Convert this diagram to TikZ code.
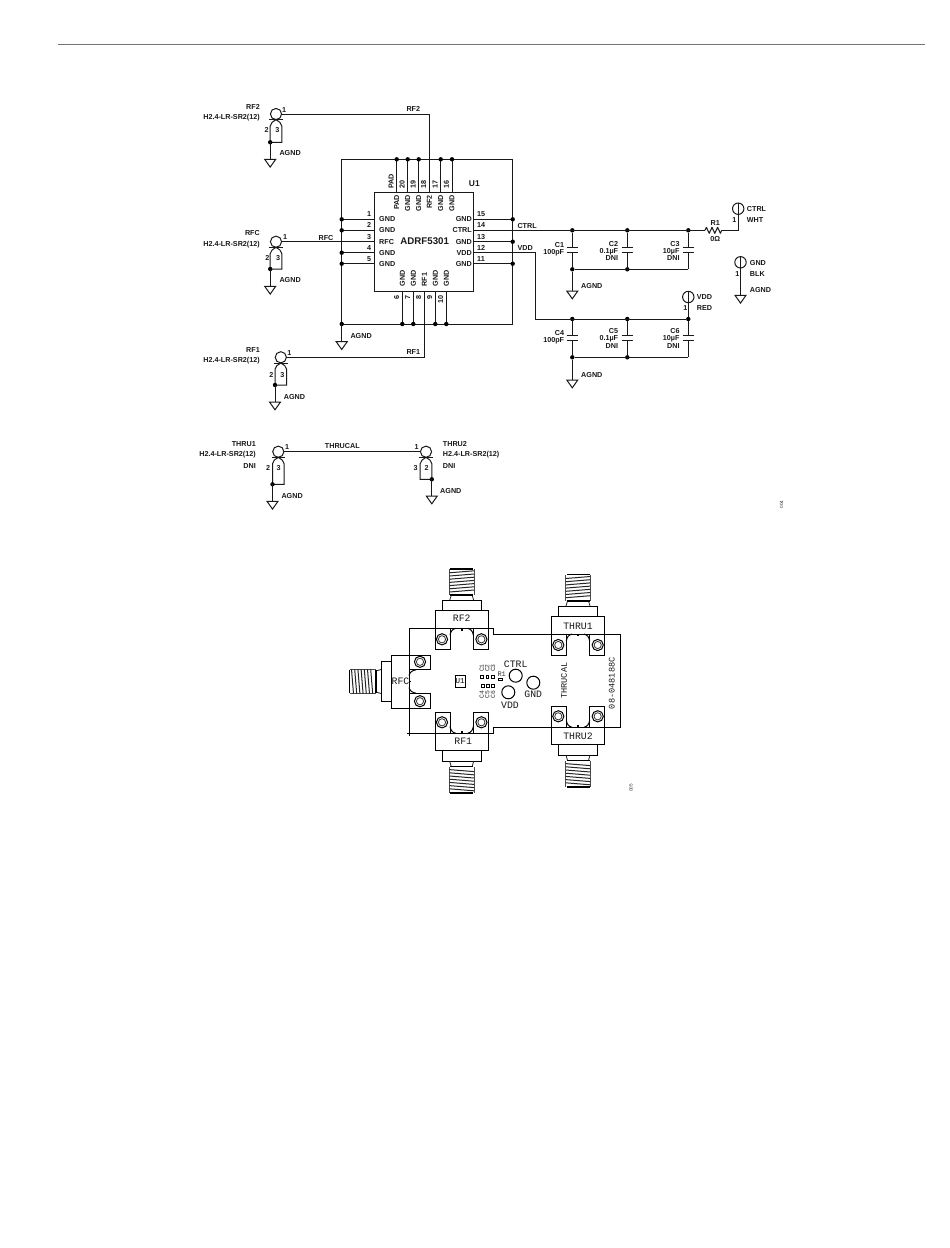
\documentclass[tikz,border=0pt]{standalone}
\usepackage{fontspec}
\usetikzlibrary{calc}
\setmainfont{Liberation Sans}
\newfontfamily\pcbfont{Liberation Mono}
\tikzset{
  wire/.style={line width=1pt,black!90},
  lbl/.style={inner sep=0pt,font=\fontsize{7.2}{8}\selectfont\bfseries,text=black!90},
  lw/.style={lbl,anchor=west},
  le/.style={lbl,anchor=east},
  lc/.style={lbl,anchor=center},
  pcb/.style={line width=1pt,black},
  pcbtext/.style={inner sep=0pt,font=\pcbfont\fontsize{9.8}{10}\selectfont,text=black!90},
  tiny/.style={inner sep=0pt,font=\pcbfont\fontsize{6.4}{7}\selectfont,text=black!80},
  jdot/.style={circle,fill=black,inner sep=0pt,minimum size=4.4pt},
}
\newcommand{\gndsym}[2]{% name, top coordinate
  \coordinate (#1) at (#2);
  \draw[wire] (#1) -- ++(-5.5,0) -- ++(5.5,7.8) -- ++(5.5,-7.8) -- cycle;}
% RF connector symbol: #1 name, #2 centre, #3 U length, #4 side of signal leg
\newcommand{\rfsym}[4]{%
  \coordinate (#1) at (#2);
  \coordinate (#1top) at ($(#1)+(0,5.7)$);
  \coordinate (#1sig) at ($(#1)+(#4*5.8,12)$);
  \coordinate (#1str) at ($(#1)+(-#4*5.8,12)$);
  \draw[wire] (#1) circle[radius=5.6];
  \draw[wire] ($(#1top)+(-6.8,0)$) -- ($(#1top)+(6.8,0)$);
  \draw[wire] (#1top) .. controls ($(#1top)+(#4*3,2)$) and ($(#1sig)+(0,-3)$) .. (#1sig) -- ($(#1sig)+(0,#3)$) -- ($(#1str)+(0,#3)$) coordinate (#1j);
  \draw[wire] (#1top) .. controls ($(#1top)+(-#4*3,2)$) and ($(#1str)+(0,-3)$) .. (#1str) -- (#1j);
  \node[jdot] at (#1j) {};
}
\newcommand{\tpsym}[2]{%
  \coordinate (#1) at (#2);
  \draw[wire] (#1) circle[radius=5.7];
  \draw[wire] ($(#1)+(0,-5.7)$) -- ($(#1)+(0,5.7)$);
}
\newcommand{\capsym}[3]{% name, x, top plate y
  \coordinate (#1a) at (#2,#3);
  \coordinate (#1b) at (#2,#3+5);
  \draw[wire] ($(#1a)+(-5.7,0)$) -- ($(#1a)+(5.7,0)$);
  \draw[wire] ($(#1b)+(-5.7,0)$) -- ($(#1b)+(5.7,0)$);
}
% board connector (local axis pointing up, origin on the board edge)
\newcommand{\sma}[1]{%
  \begin{scope}[#1]
    \draw[pcb] (-26.5,-17.4) rectangle (26.5,0);
    \draw[pcb] (-19.7,-17.4) -- (-19.7,-28) -- (19.7,-28) -- (19.7,-17.4);
    \draw[line width=0.8pt,black!85] (-12,-28) -- (-10.5,-33) (12,-28) -- (10.5,-33);
    \draw[line width=1.5pt,black] (-11.5,-33.2) -- (11.5,-33.2);
    \draw[line width=1.5pt,black] (-11.5,-59.5) -- (11.5,-59.5);
    \draw[line width=0.8pt,black!70] (-12.3,-59.5) -- (-12.3,-33.2) (12.3,-59.5) -- (12.3,-33.2);
    \foreach \t in {-56.5,-53.3,...,-35.5} {\draw[line width=1pt,black!85] (-12.3,\t+1) -- (12.3,\t-1);}
    \draw[pcb] (-26.5,0) rectangle (-11.7,21);
    \draw[pcb] (11.7,0) rectangle (26.5,21);
    \foreach \s in {-1,1} {
      \draw[pcb] (\s*19.7,11) circle[radius=5.6];
      \draw[line width=0.8pt,black!80] (\s*19.7,11) circle[radius=3.6];
      \draw[pcb] (\s*11.7,7) .. controls (\s*11,3) and (\s*9.5,1) .. (\s*6,0);
    }
    \fill (-0.9,0) rectangle (0.9,2.4);
  \end{scope}
}
\begin{document}
\begin{tikzpicture}[x=1pt,y=-1pt]
\useasboundingbox (0,0) rectangle (950,1248);
\fill[white] (0,0) rectangle (950,1248);
% page rule
\coordinate (ruleA) at (58,44);
\coordinate (ruleB) at (925,44);
\draw[line width=1pt,black!55] (ruleA) -- (ruleB);

% ---- IC ----
\coordinate (icNW) at (374.3,192.3);
\coordinate (icSE) at (473.7,291.3);
\draw[wire] (icNW) rectangle (icSE);
\node[lc,font=\fontsize{9.7}{10}\selectfont\bfseries] (icname) at (424.7,240.7) {ADRF5301};
\node[lc,font=\fontsize{8.4}{9}\selectfont\bfseries] (u1) at (474.3,183.3) {U1};

% outer ground box
\coordinate (bNW) at (341.7,159.3);
\coordinate (bNE) at (512.7,159.3);
\coordinate (bSE) at (512.7,324);
\coordinate (bSW) at (341.7,324);
\draw[wire] (bNW) -- (bNE) -- (bSE) -- (bSW) -- cycle;

% top pins
\foreach \n/\x/\num/\name in {tA/396.7/PAD/PAD,tB/407.7/20/GND,tC/418.7/19/GND,tE/440.7/17/GND,tF/452/16/GND} {
  \coordinate (\n) at (\x,159.3);
  \draw[wire] (\n) -- (\x,192.3);
  \node[jdot] at (\n) {};
  \node[lbl,rotate=90,anchor=east] at (\x,195) {\name};
  \node[lbl,rotate=90,anchor=west] at (\x-5.6,189) {\num};
}
\node[lbl,rotate=90,anchor=east] at (429.3,195) {RF2};
\node[lbl,rotate=90,anchor=west] at (423.7,189) {18};

% bottom pins
\foreach \n/\x/\num in {pA/402.3/6,pB/413.3/7,pD/435.3/9,pE/446.3/10} {
  \coordinate (\n) at (\x,324);
  \draw[wire] (\x,291.3) -- (\n);
  \node[jdot] at (\n) {};
  \node[lbl,rotate=90,anchor=west] at (\x,286.7) {GND};
  \node[lbl,rotate=90,anchor=east] at (\x-5.6,295.5) {\num};
}
\node[lbl,rotate=90,anchor=west] at (424.3,286.7) {RF1};
\node[lbl,rotate=90,anchor=east] at (418.7,295.5) {8};

% left pins
\foreach \n/\y/\num in {lA/219.3/1,lB/230.3/2,lD/252.7/4,lE/263.7/5} {
  \coordinate (\n) at (341.7,\y);
  \draw[wire] (\n) -- (374.3,\y);
  \node[jdot] at (\n) {};
  \node[lc] at (369,\y-5) {\num};
  \node[lw] at (379,\y) {GND};
}
\node[lc] at (369,236.7) {3};
\node[lw] at (379,241.7) {RFC};

% right pins
\foreach \n/\y/\num in {rA/219.3/15,rC/241.7/13,rE/263.7/11} {
  \coordinate (\n) at (512.7,\y);
  \draw[wire] (473.7,\y) -- (\n);
  \node[jdot] at (\n) {};
  \node[lw] at (477,\y-5) {\num};
  \node[le] at (472,\y) {GND};
}
\node[lw] at (477,225.3) {14};
\node[le] at (472,230.3) {CTRL};
\node[lw] at (477,247.7) {12};
\node[le] at (472,252.7) {VDD};

% box ground
\node[jdot] (boxdot) at (bSW) {};
\coordinate (g0) at (341.7,341.7);
\draw[wire] (bSW) -- (g0);
\gndsym{g0s}{g0}
\node[lw] at (350.3,336) {AGND};

% ---- RF2 ----
\rfsym{jRF2}{276,114}{16.3}{1}
\coordinate (g1) at (270.2,159.3);
\draw[wire] (jRF2j) -- (g1);
\gndsym{g1s}{g1}
\node[le] at (260,106.7) {RF2};
\node[le] at (260,118) {H2.4-LR-SR2(12)};
\node[lc] at (284,110) {1};
\node[lc] at (266.7,130) {2};
\node[lc] at (277.3,130) {3};
\node[lw] at (279.3,153.3) {AGND};
\coordinate (pinRF2) at (429.3,192.3);
\draw[wire] ($(jRF2)+(5.6,0)$) -| (pinRF2);
\node[lc] at (413.3,109.3) {RF2};

% ---- RFC ----
\rfsym{jRFC}{276,241.7}{15.3}{1}
\coordinate (g2) at (270.2,286.3);
\draw[wire] (jRFCj) -- (g2);
\gndsym{g2s}{g2}
\node[le] at (260,233.3) {RFC};
\node[le] at (260,244.3) {H2.4-LR-SR2(12)};
\node[lc] at (285,237) {1};
\node[lc] at (267.3,257.7) {2};
\node[lc] at (278,257.7) {3};
\node[lw] at (279.3,280.3) {AGND};
\coordinate (pinRFC) at (374.3,241.7);
\draw[wire] ($(jRFC)+(5.6,0)$) -- (pinRFC);
\node[lc] at (326,237.7) {RFC};

% ---- RF1 ----
\rfsym{jRF1}{280.8,357.3}{15.7}{1}
\coordinate (g3) at (275,402);
\draw[wire] (jRF1j) -- (g3);
\gndsym{g3s}{g3}
\node[le] at (260,350) {RF1};
\node[le] at (260,360.7) {H2.4-LR-SR2(12)};
\node[lc] at (289.3,352.7) {1};
\node[lc] at (271.3,374.7) {2};
\node[lc] at (282.3,374.7) {3};
\node[lw] at (283.7,396.7) {AGND};
\coordinate (pinRF1) at (424.3,291.3);
\draw[wire] ($(jRF1)+(5.6,0)$) -| (pinRF1);
\node[lc] at (413.3,351.7) {RF1};

% ---- THRU1 ----
\rfsym{jT1}{278.3,451.7}{20.6}{1}
\coordinate (g4) at (272.5,501.3);
\draw[wire] (jT1j) -- (g4);
\gndsym{g4s}{g4}
\node[le] at (256,443.7) {THRU1};
\node[le] at (256,454.7) {H2.4-LR-SR2(12)};
\node[le] at (256,465.7) {DNI};
\node[lc] at (287,446.7) {1};
\node[lc] at (268,468.3) {2};
\node[lc] at (278.7,468.3) {3};
\node[lw] at (281.3,496) {AGND};

% ---- THRU2 ----
\rfsym{jT2}{426,451.7}{15.6}{-1}
\coordinate (g5) at (431.8,496);
\draw[wire] (jT2j) -- (g5);
\gndsym{g5s}{g5}
\node[lw] at (442.7,443.7) {THRU2};
\node[lw] at (442.7,454.7) {H2.4-LR-SR2(12)};
\node[lw] at (442.7,465.7) {DNI};
\node[lc] at (416.7,446.7) {1};
\node[lc] at (415.7,468.3) {3};
\node[lc] at (426.7,468.3) {2};
\node[lw] at (440,490.7) {AGND};
\draw[wire] ($(jT1)+(5.6,0)$) -- ($(jT2)+(-5.6,0)$);
\node[lc] at (342.3,446) {THRUCAL};

% ---- CTRL rail ----
\coordinate (ctrlIC) at (473.7,230.3);
\coordinate (rA1) at (705,230.3);
\coordinate (rB1) at (721.7,230.3);
\node[jdot] (d1) at (572.3,230.3) {};
\node[jdot] (d2) at (627.3,230.3) {};
\node[jdot] (d3) at (688.3,230.3) {};
\draw[wire] (ctrlIC) -- (rA1);
\draw[wire,line join=round] (rA1) -- ++(1.4,-3) -- ++(2.8,6) -- ++(2.8,-6) -- ++(2.8,6) -- ++(2.8,-6) -- ++(2.8,6) -- (rB1);
\tpsym{tpCTRL}{738.2,208.7}
\draw[wire] (rB1) -- (738.2,230.3) -- ($(tpCTRL)+(0,5.7)$);
\node[lw] at (746.7,209) {CTRL};
\node[lw] at (746.7,220) {WHT};
\node[lc] at (734.3,220) {1};
\node[lc] at (715.3,222.7) {R1};
\node[lc] at (715.3,239.3) {0Ω};
\node[lw] at (517.3,225.7) {CTRL};
\node[lw] at (517.3,248.3) {VDD};

% upper capacitors
\capsym{c1}{572.3}{247.3}
\capsym{c2}{627.3}{247.3}
\capsym{c3}{688.3}{247.3}
\node[jdot] (d4) at (572.3,269.3) {};
\node[jdot] (d5) at (627.3,269.3) {};
\coordinate (d6) at (688.3,269.3);
\draw[wire] (d1) -- (c1a) (c1b) -- (d4);
\draw[wire] (d2) -- (c2a) (c2b) -- (d5);
\draw[wire] (d3) -- (c3a) (c3b) -- (d6);
\draw[wire] (d4) -- (d6);
\coordinate (g6) at (572.3,291);
\draw[wire] (d4) -- (g6);
\gndsym{g6s}{g6}
\node[lw] at (581,286.3) {AGND};
\node[le] at (564.3,245) {C1};
\node[le] at (564.3,252.7) {100pF};
\node[le] at (618.3,243.7) {C2};
\node[le] at (618.3,251.3) {0.1µF};
\node[le] at (618.3,258.3) {DNI};
\node[le] at (679.7,243.7) {C3};
\node[le] at (679.7,251.3) {10µF};
\node[le] at (679.7,258.3) {DNI};

% GND test point
\tpsym{tpGND}{740.5,262.3}
\coordinate (g7) at (740.5,295.3);
\draw[wire] ($(tpGND)+(0,5.7)$) -- (g7);
\gndsym{g7s}{g7}
\node[lw] at (749.7,262.7) {GND};
\node[lw] at (749.7,274) {BLK};
\node[lw] at (749.7,290.3) {AGND};
\node[lc] at (737.3,274) {1};

% ---- VDD rail ----
\coordinate (vddIC) at (473.7,252.7);
\coordinate (vddK) at (535.7,252.7);
\node[jdot] (e1) at (572.3,319) {};
\node[jdot] (e2) at (627.3,319) {};
\node[jdot] (e3) at (688.3,319) {};
\draw[wire] (vddIC) -- (vddK) |- (e3);
\tpsym{tpVDD}{688.3,297}
\draw[wire] ($(tpVDD)+(0,5.7)$) -- (e3);
\node[lw] at (696.7,297.3) {VDD};
\node[lw] at (696.7,308.3) {RED};
\node[lc] at (685.3,308.3) {1};

\capsym{c4}{572.3}{335.3}
\capsym{c5}{627.3}{335.3}
\capsym{c6}{688.3}{335.3}
\node[jdot] (e4) at (572.3,357.3) {};
\node[jdot] (e5) at (627.3,357.3) {};
\coordinate (e6) at (688.3,357.3);
\draw[wire] (e1) -- (c4a) (c4b) -- (e4);
\draw[wire] (e2) -- (c5a) (c5b) -- (e5);
\draw[wire] (e3) -- (c6a) (c6b) -- (e6);
\draw[wire] (e4) -- (e6);
\coordinate (g8) at (572.3,380);
\draw[wire] (e4) -- (g8);
\gndsym{g8s}{g8}
\node[lw] at (581,374.7) {AGND};
\node[le] at (564.3,333.3) {C4};
\node[le] at (564.3,340.7) {100pF};
\node[le] at (618.3,331) {C5};
\node[le] at (618.3,338.7) {0.1µF};
\node[le] at (618.3,346) {DNI};
\node[le] at (679.7,331) {C6};
\node[le] at (679.7,338.7) {10µF};
\node[le] at (679.7,346) {DNI};

\node[inner sep=0pt,rotate=90,font=\fontsize{4.6}{5}\selectfont,text=black!80] (fig1) at (781.5,504.5) {004};

% ---- PCB ----
\draw[pcb] (409,628.3) -- (493.3,628.3) -- (493.3,634) -- (620,634) -- (620,727.3) -- (493.3,727.3) -- (493.3,733.3) -- (409,733.3) -- cycle;
\draw[line width=0.7pt] (406.5,733.3) -- (411.5,733.3) (409,731) -- (409,735.6);
\sma{shift={(461.7,628.3)}}
\sma{shift={(461.7,733.3)},yscale=-1}
\sma{shift={(578,634)}}
\sma{shift={(578,727.3)},yscale=-1}
\sma{shift={(409,681.5)},rotate=90}
\node[pcbtext] (sRF2) at (461.7,618.3) {RF2};
\node[pcbtext] (sRF1) at (463.3,741.7) {RF1};
\node[pcbtext] (sRFC) at (400.5,681.7) {RFC};
\node[pcbtext] (sT1) at (578,626.7) {THRU1};
\node[pcbtext] (sT2) at (578,736.7) {THRU2};
\node[pcbtext,rotate=90,font=\pcbfont\fontsize{8.6}{9}\selectfont] (sTC) at (564,680.7) {THRUCAL};
\node[pcbtext,rotate=90,font=\pcbfont\fontsize{8.6}{9}\selectfont] (sBN) at (611.7,683.3) {08-048188C};
\node[draw,pcb,minimum width=10pt,minimum height=12.3pt,inner sep=0pt,font=\pcbfont\fontsize{7.5}{8}\selectfont] (sU1) at (460,681.2) {U1};
% test points on board
\node[draw,pcb,circle,minimum size=13pt,inner sep=0pt] (hCTRL) at (515.7,675.7) {};
\node[draw,pcb,circle,minimum size=13pt,inner sep=0pt] (hGND) at (533.3,682.7) {};
\node[draw,pcb,circle,minimum size=13pt,inner sep=0pt] (hVDD) at (508.3,692.3) {};
\node[pcbtext] (sCTRL) at (515.7,664.3) {CTRL};
\node[pcbtext] (sGND) at (533.3,694.3) {GND};
\node[pcbtext] (sVDD) at (510,705) {VDD};
% small parts
\foreach \x in {481.7,487.3,493} {\draw[pcb] (\x-1.3,675.3) rectangle (\x+1.3,678.7);}
\foreach \x in {482.7,487.7,493} {\draw[pcb] (\x-1.3,684) rectangle (\x+1.3,687.4);}
\draw[pcb] (498,678) rectangle (502,680.5);
\node[tiny,font=\pcbfont\fontsize{7}{7}\selectfont] (sR1) at (501.7,674) {R1};
\node[tiny,rotate=90] (sC1) at (481.7,668) {C1};
\node[tiny,rotate=90] (sC2) at (487.3,668) {C2};
\node[tiny,rotate=90] (sC3) at (493,668) {C3};
\node[tiny,rotate=90] (sC4) at (481.7,694.3) {C4};
\node[tiny,rotate=90] (sC5) at (487.3,694.3) {C5};
\node[tiny,rotate=90] (sC6) at (493,694.3) {C6};
\node[inner sep=0pt,rotate=90,font=\fontsize{4.6}{5}\selectfont,text=black!80] (fig2) at (631,788) {005};
\end{tikzpicture}
\end{document}
